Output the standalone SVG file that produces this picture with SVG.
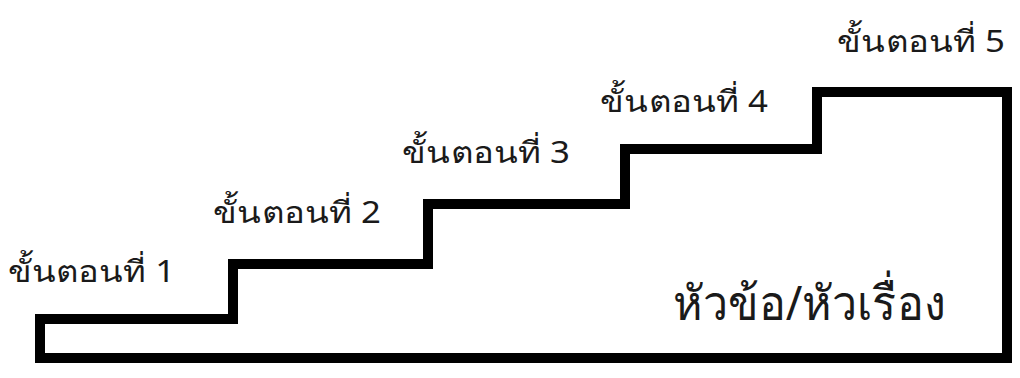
<svg xmlns="http://www.w3.org/2000/svg" width="1020" height="378" viewBox="0 0 1020 378">
<style>
.lbl{font-family:"Noto Sans","DejaVu Sans","Liberation Sans",sans-serif;font-size:30px;fill:#1a1a1a}
.main{font-family:"Noto Sans","DejaVu Sans","Liberation Sans",sans-serif;font-size:48px;fill:#1a1a1a}
.stair{fill:#fff;stroke:#000;stroke-width:10;stroke-linejoin:miter}
</style>
<rect width="1020" height="378" fill="#fff"/>
<g id="connectors"></g>
<g id="stairs">
<path class="stair" d="M40,319 H233 V264 H428 V204 H625 V149 H817 V92 H1007 V358 H40 Z"/>
</g>
<g id="step1"><text class="lbl" x="8" y="282" textLength="167" lengthAdjust="spacingAndGlyphs">ขั้นตอนที่ 1</text></g>
<g id="step2"><text class="lbl" x="213" y="223" textLength="168" lengthAdjust="spacingAndGlyphs">ขั้นตอนที่ 2</text></g>
<g id="step3"><text class="lbl" x="402" y="163" textLength="168" lengthAdjust="spacingAndGlyphs">ขั้นตอนที่ 3</text></g>
<g id="step4"><text class="lbl" x="600" y="112" textLength="168" lengthAdjust="spacingAndGlyphs">ขั้นตอนที่ 4</text></g>
<g id="step5"><text class="lbl" x="837" y="52" textLength="168" lengthAdjust="spacingAndGlyphs">ขั้นตอนที่ 5</text></g>
<g id="topic"><text class="main" x="673" y="320" textLength="272" lengthAdjust="spacingAndGlyphs">หัวข้อ/หัวเรื่อง</text></g>
</svg>
